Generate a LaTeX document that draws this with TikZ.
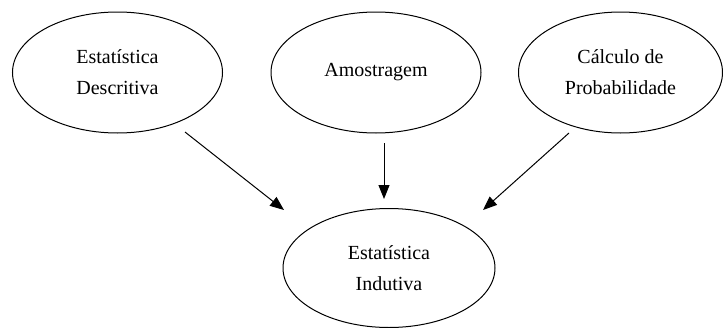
\documentclass[tikz,border=0pt]{standalone}
\usepackage{fontspec}
\setmainfont{Liberation Serif}
\usetikzlibrary{shapes.geometric,arrows.meta}
\tikzset{
  oval/.style={ellipse, draw=black, line width=1pt, inner sep=0pt,
    align=center, font=\fontsize{20}{31}\selectfont},
  conn/.style={line width=1pt, -{Triangle[length=14pt,width=11pt]}}
}
\begin{document}
\begin{tikzpicture}[x=1pt,y=-1pt]
\useasboundingbox (0,0) rectangle (723,327);
\node[oval, minimum width=210pt, minimum height=121pt] (L) at (117.5,72.5) {Estatística\\Descritiva};
\node[oval, minimum width=210pt, minimum height=121pt] (M) at (376,72.5) {Amostragem};
\node[oval, minimum width=204pt, minimum height=121pt] (R) at (620.5,72.5) {Cálculo de\\Probabilidade};
\node[oval, minimum width=212pt, minimum height=119pt] (B) at (389,268) {Estatística\\Indutiva};
\draw[conn] ([shift={(67.5,59.5)}]L.center) -- ([shift={(-105,-58)}]B.center);
\draw[conn] ([shift={(8,70.5)}]M.center) -- ([shift={(-5,-69)}]B.center);
\draw[conn] ([shift={(-51.5,60.5)}]R.center) -- ([shift={(94,-58)}]B.center);
\end{tikzpicture}
\end{document}
